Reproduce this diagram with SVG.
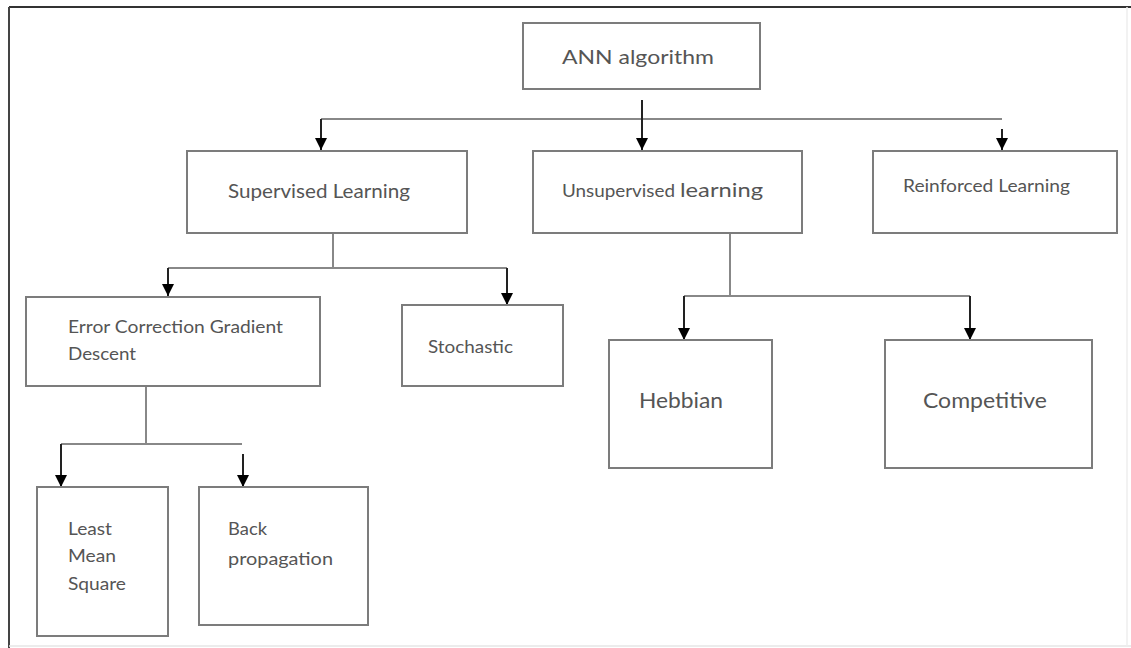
<svg xmlns="http://www.w3.org/2000/svg" width="1131" height="648" viewBox="0 0 1131 648">
<style>
.box{fill:#fff;stroke:#7c7c7c;stroke-width:2}
.t{font-family:Lato,"Open Sans","Liberation Sans",sans-serif;fill:#555}
.h{stroke:#888;stroke-width:2;fill:none}
.a{stroke:#222;stroke-width:2;fill:none;marker-end:url(#ah)}
</style>
<defs>
<marker id="ah" markerUnits="userSpaceOnUse" markerWidth="12" markerHeight="12" viewBox="0 0 12 12" refX="12" refY="6" orient="auto">
<path d="M0,0 L12,6 L0,12 Z" fill="#000"/>
</marker>
</defs>
<rect width="1131" height="648" fill="#fff"/>
<g id="frame">
<line x1="9" y1="7" x2="1131" y2="7" stroke="#333" stroke-width="2"/>
<line x1="9" y1="7" x2="9" y2="648" stroke="#444" stroke-width="2"/>
<line x1="9" y1="646" x2="1131" y2="646" stroke="#e6e6e6" stroke-width="1.5"/>
<line x1="1127" y1="7" x2="1127" y2="646" stroke="#eeeeee" stroke-width="1.5"/>
</g>
<g id="connectors">
<path class="h" d="M321,119 H1002"/>
<path class="a" d="M321,119 V150"/>
<path class="a" d="M642,100 V150"/>
<path class="a" d="M1002,129 V150"/>
<path class="h" d="M333,233 V268 M168,268 H507"/>
<path class="a" d="M168,268 V296"/>
<path class="a" d="M507,268 V305"/>
<path class="h" d="M730,233 V296 M684,296 H970"/>
<path class="a" d="M684,296 V340"/>
<path class="a" d="M970,296 V340"/>
<path class="h" d="M146,386 V444 M61,444 H242"/>
<path class="a" d="M61,444 V487"/>
<path class="a" d="M243,454 V487"/>
</g>
<g id="ann">
<rect class="box" x="523" y="23" width="237" height="66"/>
<text class="t" x="562" y="64" font-size="20" textLength="152" lengthAdjust="spacingAndGlyphs">ANN algorithm</text>
</g>
<g id="supervised">
<rect class="box" x="187" y="151" width="280" height="82"/>
<text class="t" x="228" y="198" font-size="19" textLength="182" lengthAdjust="spacingAndGlyphs">Supervised Learning</text>
</g>
<g id="unsupervised">
<rect class="box" x="533" y="151" width="269" height="82"/>
<text class="t" x="562" y="197" font-size="17" textLength="113" lengthAdjust="spacingAndGlyphs">Unsupervised</text>
<text class="t" x="680" y="197" font-size="20" textLength="83" lengthAdjust="spacingAndGlyphs">learning</text>
</g>
<g id="reinforced">
<rect class="box" x="873" y="151" width="244" height="82"/>
<text class="t" x="903" y="192" font-size="17" textLength="167" lengthAdjust="spacingAndGlyphs">Reinforced Learning</text>
</g>
<g id="ecgd">
<rect class="box" x="26" y="297" width="294" height="89"/>
<text class="t" x="68" y="333" font-size="17" textLength="215" lengthAdjust="spacingAndGlyphs">Error Correction Gradient</text>
<text class="t" x="68" y="360" font-size="17" textLength="68" lengthAdjust="spacingAndGlyphs">Descent</text>
</g>
<g id="stochastic">
<rect class="box" x="402" y="305" width="161" height="81"/>
<text class="t" x="428" y="353" font-size="17" textLength="85" lengthAdjust="spacingAndGlyphs">Stochastic</text>
</g>
<g id="hebbian">
<rect class="box" x="609" y="340" width="163" height="128"/>
<text class="t" x="639" y="408" font-size="21" textLength="84" lengthAdjust="spacingAndGlyphs">Hebbian</text>
</g>
<g id="competitive">
<rect class="box" x="885" y="340" width="207" height="128"/>
<text class="t" x="923" y="408" font-size="21" textLength="124" lengthAdjust="spacingAndGlyphs">Competitive</text>
</g>
<g id="lms">
<rect class="box" x="37" y="487" width="131" height="149"/>
<text class="t" x="68" y="535" font-size="17" textLength="44" lengthAdjust="spacingAndGlyphs">Least</text>
<text class="t" x="68" y="562" font-size="17" textLength="48" lengthAdjust="spacingAndGlyphs">Mean</text>
<text class="t" x="68" y="590" font-size="17" textLength="58" lengthAdjust="spacingAndGlyphs">Square</text>
</g>
<g id="backprop">
<rect class="box" x="199" y="487" width="169" height="138"/>
<text class="t" x="228" y="535" font-size="17" textLength="39" lengthAdjust="spacingAndGlyphs">Back</text>
<text class="t" x="228" y="565" font-size="18" textLength="105" lengthAdjust="spacingAndGlyphs">propagation</text>
</g>
</svg>
